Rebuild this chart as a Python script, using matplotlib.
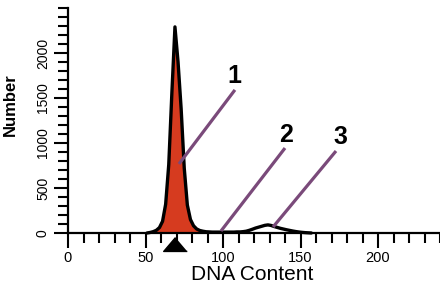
import matplotlib
matplotlib.use("Agg")
import matplotlib.pyplot as plt
from matplotlib.ticker import MultipleLocator

# ---- data ----
dna_content = [51, 53, 55, 57, 59, 61, 63, 65, 67, 69, 71, 73, 75, 77, 79, 81, 83, 85, 87,
               89, 91, 93, 95, 97, 99, 101, 103, 105, 107, 109, 111, 113, 115, 117, 119,
               121, 123, 125, 127, 129, 131, 133, 135, 137, 139, 141, 143, 145, 147, 149,
               151, 153, 155, 157]
number = [0, 6, 15, 30, 60, 130, 320, 760, 1550, 2290, 1900, 1380, 720, 310, 150, 80, 45, 28, 20,
          14, 12, 10, 10, 10, 10, 10, 10, 10, 10, 12, 12, 15, 20, 30, 42,
          55, 65, 75, 85, 90, 84, 72, 62, 52, 44, 36, 29, 22, 16, 11,
          7, 4, 2, 0]
g1_range = (53, 87)          # red-filled G1 peak
g1_marker = 69               # black triangle under the axis

x_ticks = [0, 50, 100, 150, 200]
y_ticks = [0, 500, 1000, 1500, 2000]

labels = ["1", "2", "3"]
label_pos_x = [107.5, 140.5, 175.5]
label_pos_y = [1740, 1090, 1070]
line_start_x = [107.7, 140.0, 172.9]
line_start_y = [1590, 944, 911]
line_end_x = [71.6, 98.7, 132.3]
line_end_y = [767, 22, 67]

# ---- figure ----
fig = plt.figure(figsize=(4.4, 2.86), dpi=100)
ax = fig.add_axes([68 / 440, 53 / 286, 372 / 440, 225 / 286])
ax.set_xlim(0, 240)
ax.set_ylim(0, 2500)

red = "#d63b1f"
xf = [x for x in dna_content if g1_range[0] <= x <= g1_range[1]]
yf = [y for x, y in zip(dna_content, number) if g1_range[0] <= x <= g1_range[1]]
ax.fill_between(xf, yf, 0, color=red, lw=0, zorder=2)
ax.plot(dna_content, number, color="black", lw=2.4, solid_joinstyle="round",
        solid_capstyle="round", zorder=3, clip_on=False)

# triangle marker below axis
ax.plot([g1_marker], [-0.05], transform=ax.get_xaxis_transform(),
        marker=[(0, 1), (-1.7, -1), (1.7, -1)], ms=17, color="black",
        clip_on=False, zorder=5)

# annotations
purple = "#7a4a7a"
for t, tx, ty, x0, y0, x1, y1 in zip(labels, label_pos_x, label_pos_y,
                                      line_start_x, line_start_y, line_end_x, line_end_y):
    ax.plot([x0, x1], [y0, y1], color=purple, lw=2.3, solid_capstyle="butt", zorder=4)
    ax.text(tx, ty, t, fontsize=18, fontweight="bold", ha="center", va="center",
            family="Liberation Sans", zorder=6)

# axes styling
for s in ["top", "right"]:
    ax.spines[s].set_visible(False)
for s in ["left", "bottom"]:
    ax.spines[s].set_linewidth(1.6)
ax.spines["bottom"].set_zorder(4)

ax.set_xticks(x_ticks)
ax.set_yticks(y_ticks)
ax.xaxis.set_minor_locator(MultipleLocator(10))
ax.yaxis.set_minor_locator(MultipleLocator(100))
ax.tick_params(which="major", direction="out", width=1.5)
ax.tick_params(axis="x", which="major", length=11, pad=2, labelsize=10.5)
ax.tick_params(axis="y", which="major", length=10, pad=3, labelsize=10, labelrotation=90)
ax.tick_params(which="minor", direction="out", width=1.5, length=7)
for lab in ax.get_xticklabels() + ax.get_yticklabels():
    lab.set_family("Liberation Sans")
for lab in ax.get_yticklabels():
    lab.set_va("center")

ax.set_xlabel("DNA Content", fontsize=15, family="Liberation Sans")
ax.set_ylabel("Number", fontsize=12, family="Liberation Sans", fontweight="bold")
ax.yaxis.set_label_coords(-0.134, 0.57)
ax.xaxis.set_label_coords(0.495, -0.14)

fig.savefig("out.png", dpi=100, facecolor="white")
